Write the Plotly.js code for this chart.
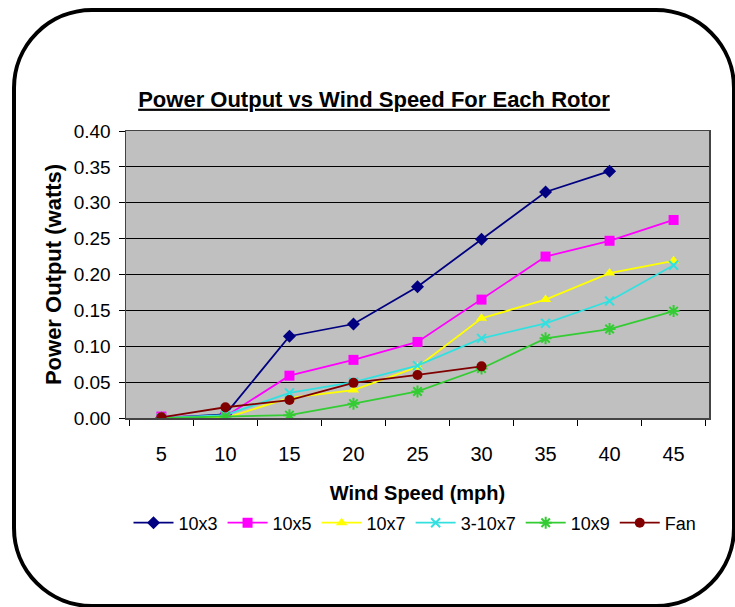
<!DOCTYPE html>
<html>
<head>
<meta charset="utf-8">
<script src="https://cdn.plot.ly/plotly-3.0.1.min.js"></script>
<style>
  html, body { margin: 0; padding: 0; background: #ffffff; }
  #wrap { position: relative; width: 735px; height: 607px; }
  #chart { position: absolute; left: 0; top: 0; width: 735px; height: 607px; }
  #frame { position: absolute; left: 12px; top: 8px; width: 716px; height: 592px;
           border: 4px solid #000; border-radius: 80px; pointer-events: none; }
</style>
</head>
<body>
<div id="wrap">
  <div id="chart"></div>
  <div id="frame"></div>
</div>
<script>
// Data
const windSpeed = ['5', '10', '15', '20', '25', '30', '35', '40', '45'];
const seriesNames = ['10x3', '10x5', '10x7', '3-10x7', '10x9', 'Fan'];
const p10x3   = [0.000, 0.005, 0.114, 0.131, 0.183, 0.249, 0.315, 0.344];
const p10x5   = [0.002, 0.002, 0.059, 0.081, 0.106, 0.165, 0.225, 0.247, 0.276];
const p10x7   = [0.000, 0.000, 0.028, 0.039, 0.071, 0.139, 0.165, 0.202, 0.219];
const p3_10x7 = [0.000, 0.004, 0.035, 0.050, 0.073, 0.111, 0.132, 0.163, 0.213];
const p10x9   = [0.000, 0.002, 0.004, 0.020, 0.037, 0.069, 0.111, 0.124, 0.149];
const pFan    = [0.001, 0.015, 0.025, 0.049, 0.060, 0.072];

const seriesValues = [p10x3, p10x5, p10x7, p3_10x7, p10x9, pFan];
const colors  = ['#000080', '#FF00FF', '#FFFF00', '#33E0E0', '#33CC33', '#800000'];
const symbols = ['diamond', 'square', 'triangle-up', 'x-thin-open', 'asterisk-open', 'circle'];
const sizes   = [10, 10, 10, 9, 10, 10];

const FONT = 'Liberation Sans, Arial, sans-serif';

const traces = seriesNames.map((name, i) => ({
  type: 'scatter',
  mode: 'lines+markers',
  name: name,
  x: windSpeed.slice(0, seriesValues[i].length),
  y: seriesValues[i],
  line: { color: colors[i], width: 1.8 },
  marker: { color: colors[i], symbol: symbols[i], size: sizes[i],
            line: { color: colors[i], width: (symbols[i].indexOf('open') >= 0) ? 2 : 0 } }
}));

const layout = {
  width: 735, height: 607,
  paper_bgcolor: '#ffffff',
  plot_bgcolor: '#C0C0C0',
  margin: { l: 126, r: 26, t: 131, b: 189 },
  font: { family: FONT, color: '#000', size: 19 },
  title: {
    text: '<u><b>Power Output vs Wind Speed For Each Rotor</b></u>',
    font: { family: FONT, size: 22, color: '#000' },
    x: 374 / 735, xref: 'container', xanchor: 'center',
    y: 1 - 99 / 607, yref: 'container', yanchor: 'middle'
  },
  xaxis: {
    type: 'category',
    categoryorder: 'array', categoryarray: windSpeed,
    tickson: 'boundaries',
    ticks: 'outside', ticklen: 6, tickcolor: '#000', tickwidth: 1,
    showline: true, linecolor: '#444', linewidth: 1.5, mirror: true,
    showgrid: false,
    tickfont: { family: FONT, size: 20, color: '#000' },
    ticklabelstandoff: 17,
    title: { text: '<b>Wind Speed (mph)</b>', font: { family: FONT, size: 20, color: '#000' }, standoff: 22 }
  },
  yaxis: {
    range: [0, 0.4], dtick: 0.05, tickformat: '.2f',
    ticks: 'outside', ticklen: 6, tickcolor: '#000', tickwidth: 1,
    showline: true, linecolor: '#444', linewidth: 1.5, mirror: true,
    showgrid: true, gridcolor: '#000', gridwidth: 1.2,
    zeroline: false,
    tickfont: { family: FONT, size: 19, color: '#000' },
    ticklabelstandoff: 4,
    title: { text: '<b>Power Output (watts)</b>', font: { family: FONT, size: 22, color: '#000' }, standoff: 6 }
  },
  showlegend: true,
  legend: {
    orientation: 'h', x: 415 / 735, xanchor: 'center', xref: 'container',
    y: 1 - 523 / 607, yref: 'container', yanchor: 'middle',
    font: { family: FONT, size: 18, color: '#000' },
    bgcolor: 'rgba(0,0,0,0)', itemwidth: 40, tracegroupgap: 0
  }
};

Plotly.newPlot('chart', traces, layout, { displayModeBar: false, staticPlot: true });
</script>
</body>
</html>
